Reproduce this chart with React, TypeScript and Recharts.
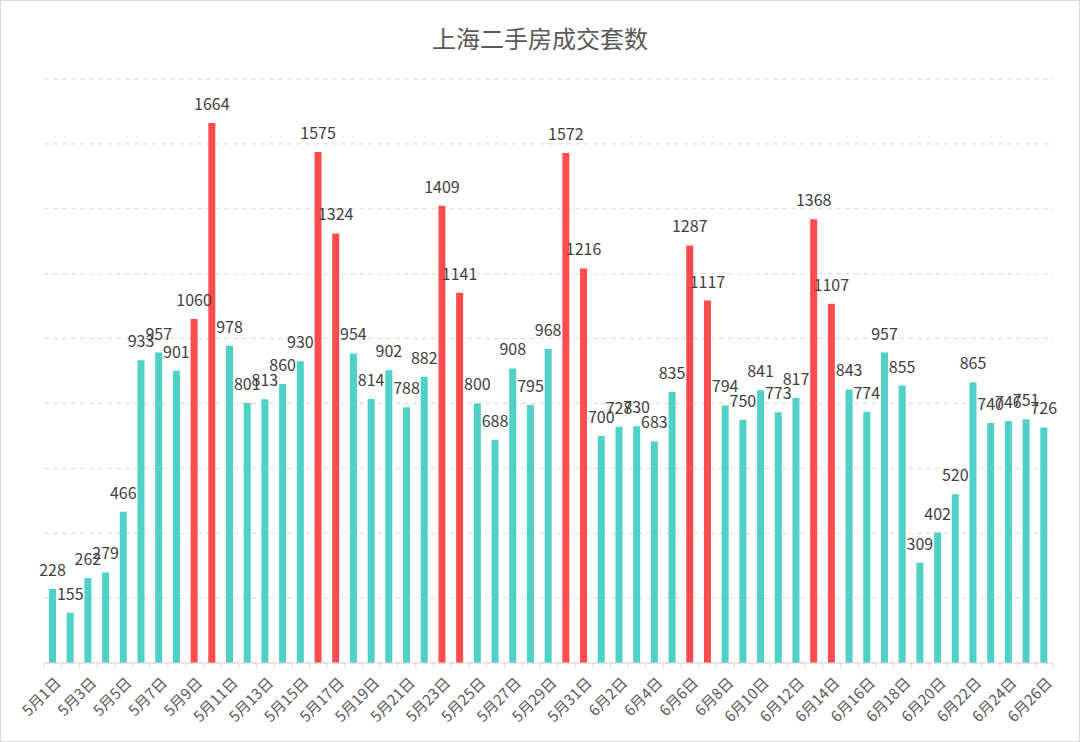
import { BarChart, Bar, Cell, XAxis, YAxis, CartesianGrid, LabelList } from 'recharts';

const dates = [
  '5月1日', '5月2日', '5月3日', '5月4日', '5月5日', '5月6日', '5月7日', '5月8日', '5月9日', '5月10日',
  '5月11日', '5月12日', '5月13日', '5月14日', '5月15日', '5月16日', '5月17日', '5月18日', '5月19日', '5月20日',
  '5月21日', '5月22日', '5月23日', '5月24日', '5月25日', '5月26日', '5月27日', '5月28日', '5月29日', '5月30日',
  '5月31日', '6月1日', '6月2日', '6月3日', '6月4日', '6月5日', '6月6日', '6月7日', '6月8日', '6月9日',
  '6月10日', '6月11日', '6月12日', '6月13日', '6月14日', '6月15日', '6月16日', '6月17日', '6月18日', '6月19日',
  '6月20日', '6月21日', '6月22日', '6月23日', '6月24日', '6月25日', '6月26日',
];

const deals = [
  228, 155, 262, 279, 466, 933, 957, 901, 1060, 1664,
  978, 801, 813, 860, 930, 1575, 1324, 954, 814, 902,
  788, 882, 1409, 1141, 800, 688, 908, 795, 968, 1572,
  1216, 700, 728, 730, 683, 835, 1287, 1117, 794, 750,
  841, 773, 817, 1368, 1107, 843, 774, 957, 855, 309,
  402, 520, 865, 740, 746, 751, 726,
];

// weekend days drawn in red
const weekendDates = [
  '5月9日', '5月10日', '5月16日', '5月17日', '5月23日', '5月24日',
  '5月30日', '5月31日', '6月6日', '6月7日', '6月13日', '6月14日',
];

const yTicks = [0, 200, 400, 600, 800, 1000, 1200, 1400, 1600, 1800];

const TEAL = '#4fd1c7';
const RED = '#ff4d4f';
const FONT = '"Noto Sans CJK SC", "Noto Sans", sans-serif';

const data = dates.map((d, i) => ({ date: d, value: deals[i] }));

function DateTick(props: any) {
  const { x, y, payload, index, width } = props;
  const band = width / dates.length;
  const left = x - band / 2;
  const tx = x + 9;
  const ty = y + 21;
  return (
    <g>
      <line x1={left} x2={left} y1={y} y2={y + 5} stroke="#d9d9d9" />
      {index === dates.length - 1 && (
        <line x1={x + band / 2} x2={x + band / 2} y1={y} y2={y + 5} stroke="#d9d9d9" />
      )}
      {index % 2 === 0 && (
        <text
          x={tx}
          y={ty}
          textAnchor="end"
          fill="#595959"
          fontSize={15}
          fontFamily={FONT}
          transform={`rotate(-45, ${tx}, ${ty})`}
        >
          {payload.value}
        </text>
      )}
    </g>
  );
}

export default function App() {
  return (
    <div
      style={{
        position: 'absolute',
        left: 0,
        top: 0,
        width: 1080,
        height: 742,
        boxSizing: 'border-box',
        border: '1px solid #d9d9d9',
        background: '#fff',
      }}
    >
      <div
        style={{
          position: 'absolute',
          left: 0,
          right: 0,
          top: 19,
          textAlign: 'center',
          fontSize: 24,
          color: '#595959',
          fontFamily: FONT,
        }}
      >
        上海二手房成交套数
      </div>
      <div style={{ position: 'absolute', left: -1, top: -1 }}>
        <BarChart
          width={1080}
          height={742}
          data={data}
          margin={{ top: 79, right: 27, left: 44, bottom: 0 }}
        >
          <CartesianGrid vertical={false} stroke="#d9d9d9" strokeDasharray="5 4" />
          <XAxis
            dataKey="date"
            interval={0}
            height={79}
            tickSize={0}
            tickMargin={0}
            tickLine={false}
            axisLine={{ stroke: '#d9d9d9' }}
            tick={<DateTick />}
          />
          <YAxis hide domain={[0, 1800]} ticks={yTicks} />
          <Bar dataKey="value" barSize={7} isAnimationActive={false}>
            {data.map((d) => (
              <Cell key={d.date} fill={weekendDates.includes(d.date) ? RED : TEAL} />
            ))}
            <LabelList
              dataKey="value"
              position="top"
              offset={13}
              fill="#404040"
              fontSize={16}
              fontFamily={FONT}
            />
          </Bar>
        </BarChart>
      </div>
    </div>
  );
}
